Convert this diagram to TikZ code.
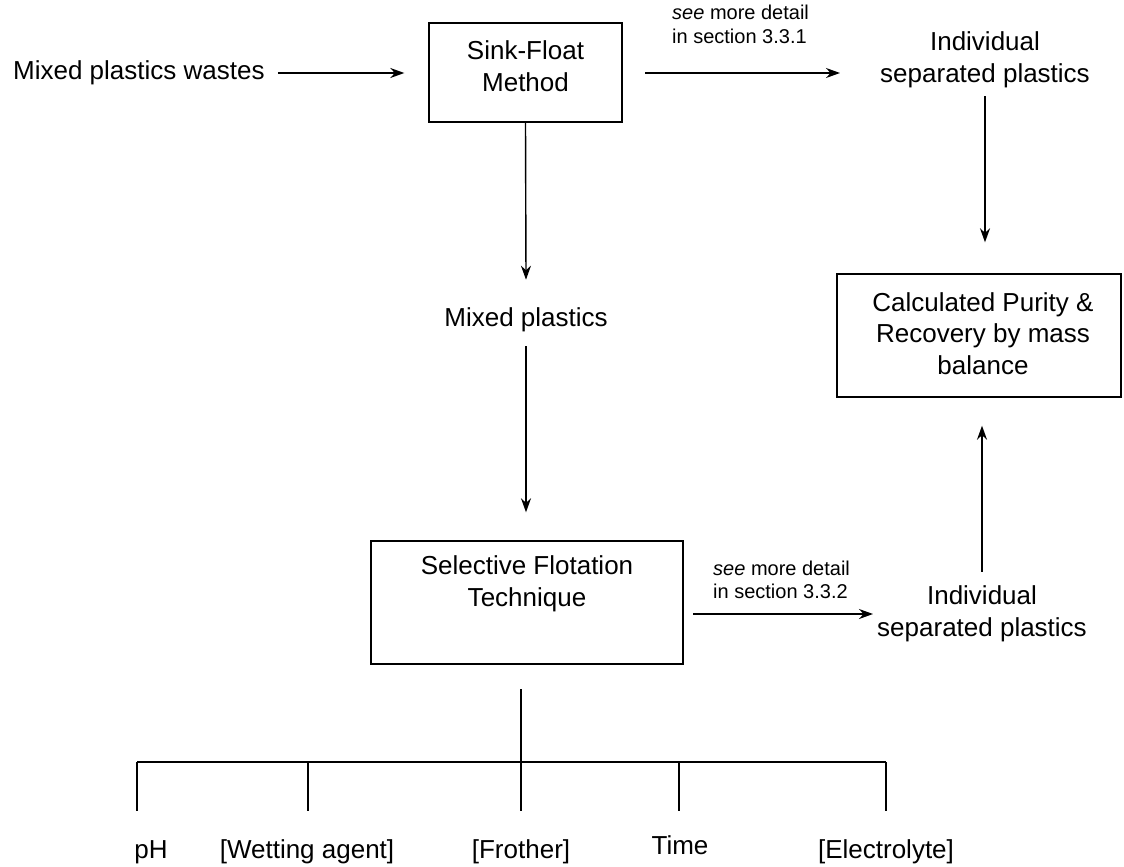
\documentclass[tikz,border=0pt]{standalone}
\usepackage{fontspec}
\setmainfont{Liberation Sans}
\usetikzlibrary{arrows.meta}
\tikzset{
  every node/.style={font=\fontsize{26}{31.5}\selectfont, align=center, inner sep=0pt},
  procbox/.style={draw, line width=1.4pt},
  note/.style={font=\fontsize{20}{23.5}\selectfont, align=left},
  arr/.style={-{Stealth[length=14pt,width=10pt]}, line width=1.4pt},
  ln/.style={line width=1.4pt}
}
\begin{document}
\begin{tikzpicture}[x=1pt,y=-1pt]
\useasboundingbox (0,0) rectangle (1124,867);
% nodes
\node[anchor=west] (mpw) at (13,73) {Mixed plastics wastes};
\node[procbox, minimum width=193pt, minimum height=99pt] (sf) at (525.5,72.5) {};
\node (sft1) at (525.5,66) {Sink-Float\\Method};
\node (isp1) at (985,60) {Individual\\separated plastics};
\node[procbox, minimum width=284pt, minimum height=123pt] (calc) at (979,335.5) {};
\node (calct) at (983,333.5) {Calculated Purity \&\\Recovery by mass\\balance};
\node (mp) at (526,320) {Mixed plastics};
\node[procbox, minimum width=312pt, minimum height=123pt] (sft) at (527,602.5) {};
\node (sftt) at (527,584) {Selective Flotation\\Technique};
\node (isp2) at (982,614) {Individual\\separated plastics};
\node[note, anchor=west] (n1) at (672,24.5) {\textit{see} more detail\\in section 3.3.1};
\node[note, anchor=west] (n2) at (713,580) {\textit{see} more detail\\in section 3.3.2};
% bottom labels
\node (ph) at (151,852) {pH};
\node (wa) at (307,852) {[Wetting agent]};
\node (fr) at (521,852) {[Frother]};
\node (ti) at (680,845) {Time};
\node (el) at (886,852) {[Electrolyte]};
% coordinates
\coordinate (t0) at (521,689);
\coordinate (hb) at (521,762);
\coordinate (h1) at (137,762);
\coordinate (h2) at (308,762);
\coordinate (h4) at (679,762);
\coordinate (h5) at (886,762);
\coordinate (d1) at (137,811);
\coordinate (d2) at (308,811);
\coordinate (d3) at (521,811);
\coordinate (d4) at (679,811);
\coordinate (d5) at (886,811);
\coordinate (a1) at (645,73);
\coordinate (a1e) at (840,73);
\coordinate (a2) at (693,614);
\coordinate (a2e) at (873,614);
% connectors
\draw[arr] ([xshift=13pt]mpw.east) -- ([xshift=-24pt]sf.west |- mpw.east);
\draw[arr] (a1) -- (a1e);
\draw[arr] ([yshift=-8pt]isp1.south) -- ([yshift=31pt]isp1.south |- calc.north);
\draw[arr] (sf.south) -- ([yshift=28pt]mp.north);
\draw[arr] ([yshift=-14pt]mp.south) -- ([yshift=28pt]mp.south |- sft.north);
\draw[arr] ([yshift=14pt]isp2.north) -- ([yshift=-28pt]isp2.north |- calc.south);
\draw[arr] (a2) -- (a2e);
\draw[ln] (t0) -- (hb);
\draw[ln] (h1) -- (h5);
\draw[ln] (h1) -- (d1);
\draw[ln] (h2) -- (d2);
\draw[ln] (hb) -- (d3);
\draw[ln] (h4) -- (d4);
\draw[ln] (h5) -- (d5);
\end{tikzpicture}
\end{document}
